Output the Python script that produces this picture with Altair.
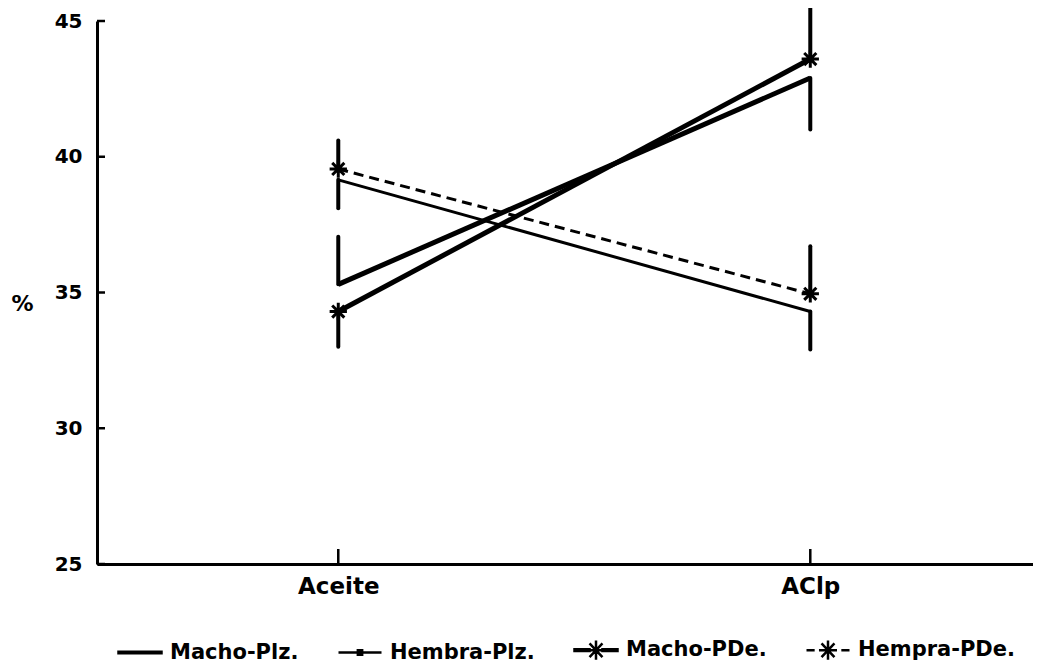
import altair as alt
import pandas as pd

categories = ["Aceite", "AClp"]
series = ["Macho-Plz.", "Hembra-Plz.", "Macho-PDe.", "Hempra-PDe."]
means = {
    "Macho-Plz.": [35.3, 42.9],
    "Hembra-Plz.": [39.15, 34.3],
    "Macho-PDe.": [34.3, 43.6],
    "Hempra-PDe.": [39.55, 34.95],
}
err_end = {
    "Macho-Plz.": [37.05, 41.0],
    "Hembra-Plz.": [38.1, 32.9],
    "Macho-PDe.": [33.0, 45.6],
    "Hempra-PDe.": [40.6, 36.7],
}
line_widths = [5, 3, 5, 3]
dashed_series = ["Hempra-PDe."]
star_series = ["Macho-PDe.", "Hempra-PDe."]
y_ticks = [25, 30, 35, 40, 45]

rows = []
for i, s in enumerate(series):
    for j, c in enumerate(categories):
        rows.append({"serie": s, "cat": c, "value": means[s][j],
                     "end": err_end[s][j], "sw": line_widths[i]})
df = pd.DataFrame(rows)

FONT = "DejaVu Sans"
ysc = alt.Scale(domain=[25, 45], nice=False, zero=False)
xsc = alt.Scale(type="point", domain=categories, padding=0.4915, align=0.52)

ast = "M-1,0L1,0M0,-1L0,1M-0.7,-0.7L0.7,0.7M-0.7,0.7L0.7,-0.7"
ast_s = "M-0.42,0L0.42,0M0,-0.45L0,0.45M-0.3,-0.32L0.3,0.32M-0.3,0.32L0.3,-0.32"
thick = "M-1,-0.04L1,-0.04L1,0.04L-1,0.04Z"
thin = "M-1,0L1,0"
dot = "M-0.1,-0.1L0.1,-0.1L0.1,0.1L-0.1,0.1Z"
dashed = "M-1,0L-0.62,0M-0.32,0L0.32,0M0.62,0L1,0"
short_thick = "M-1,-0.04L-0.3,-0.04L-0.3,0.04L-1,0.04ZM0.3,-0.04L1,-0.04L1,0.04L0.3,0.04Z"
legend_paths = [thick, thin + dot, short_thick + ast_s, dashed + ast_s]

base = alt.Chart(df)

X = alt.X("cat:N", scale=xsc, sort=categories, title=None,
          axis=alt.Axis(labelAngle=0, labelPadding=11, labelFontSize=23))
Y = alt.Y("value:Q", scale=ysc, title="%",
          axis=alt.Axis(values=y_ticks, labelPadding=15, labelFontSize=20,
                        titleAngle=0, titleX=-75, titleY=282, titleFontSize=22,
                        titleAlign="center", titleBaseline="middle"))

solid_lines = base.transform_filter(
    ~alt.FieldOneOfPredicate(field="serie", oneOf=dashed_series)
).mark_line(color="black").encode(
    x=X, y=Y, detail="serie:N",
    strokeWidth=alt.StrokeWidth("sw:Q", scale=None, legend=None),
)

dashed_lines = base.transform_filter(
    alt.FieldOneOfPredicate(field="serie", oneOf=dashed_series)
).mark_line(color="black", strokeDash=[10, 6]).encode(
    x=X, y=Y, detail="serie:N",
    strokeWidth=alt.StrokeWidth("sw:Q", scale=None, legend=None),
)

errs = base.mark_rule(color="black", strokeWidth=4, strokeCap="round").encode(
    x=X, y=Y, y2="end:Q",
)

stars = base.transform_filter(
    alt.FieldOneOfPredicate(field="serie", oneOf=star_series)
).mark_point(shape=ast, size=300, strokeWidth=3, color="black", filled=False,
             opacity=1).encode(x=X, y=Y)

legend_layer = base.mark_point(filled=False, size=0, color="black").encode(
    x=X, y=Y,
    shape=alt.Shape("serie:N", scale=alt.Scale(domain=series, range=legend_paths),
                    legend=alt.Legend(title=None, orient="none", legendX=20,
                                      legendY=606, direction="horizontal",
                                      columns=4, columnPadding=34,
                                      symbolSize=1849, symbolOpacity=1,
                                      symbolFillColor="black",
                                      symbolStrokeColor="black",
                                      symbolStrokeWidth=2.5,
                                      labelFont=FONT, labelFontSize=21,
                                      labelFontWeight="bold", labelColor="black",
                                      labelOffset=7, labelLimit=300)),
)

ytick_df = pd.DataFrame({"value": y_ticks})
yticks = alt.Chart(ytick_df).mark_rule(color="black", strokeWidth=2.5).encode(
    y=Y, x=alt.value(0), x2=alt.value(8),
)

xtick_df = pd.DataFrame({"cat": categories})
xticks = alt.Chart(xtick_df).mark_rule(color="black", strokeWidth=2.5).encode(
    x=X, y=alt.value(543), y2=alt.value(528),
)

chart = alt.layer(solid_lines, dashed_lines, errs, stars, legend_layer,
                  yticks, xticks).properties(
    width=936, height=543,
    autosize=alt.AutoSizeParams(type="none"),
    padding={"left": 89, "top": 13, "right": 0, "bottom": 99},
    background="white",
).configure_view(stroke=None).configure_axis(
    grid=False, ticks=False, tickSize=0, domainWidth=3, domainColor="black",
    labelFont=FONT, labelFontWeight="bold", labelColor="black",
    titleFont=FONT, titleFontWeight="bold", titleColor="black",
)

chart.save("out.html", embed_options={"renderer": "svg", "actions": False})
